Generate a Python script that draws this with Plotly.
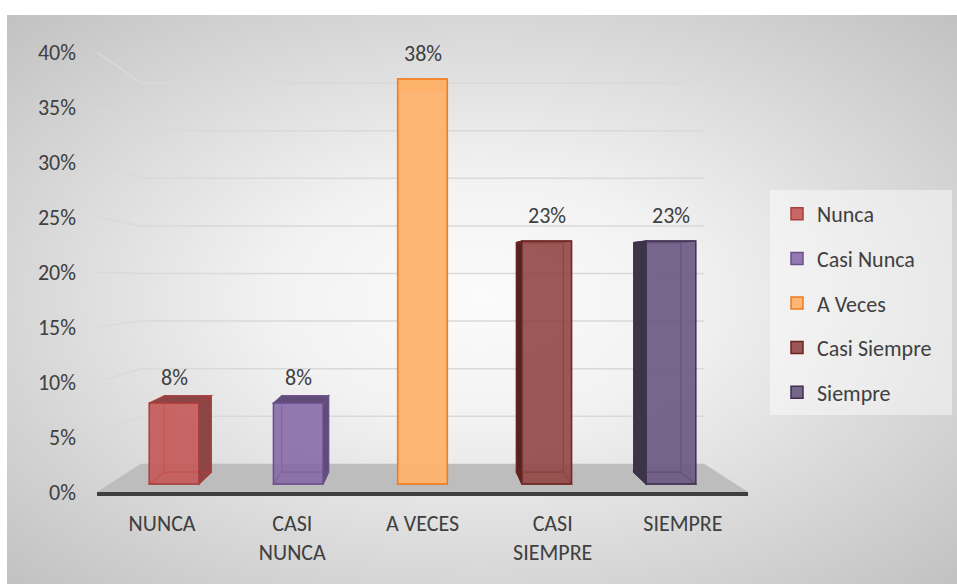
import base64
import plotly.graph_objects as go

# ---- data ----
categories = ["NUNCA", "CASI<br>NUNCA", "A VECES", "CASI<br>SIEMPRE", "SIEMPRE"]
series_names = ["Nunca", "Casi Nunca", "A Veces", "Casi Siempre", "Siempre"]
values = [0.0769, 0.0769, 0.3846, 0.2308, 0.2308]
value_labels = ["8%", "8%", "38%", "23%", "23%"]
y_ticks = [0, 0.05, 0.10, 0.15, 0.20, 0.25, 0.30, 0.35, 0.40]

# (front fill, edge, side face)
COLORS = [
    ("rgba(196,88,86,0.9)", "#a83f3c", "#8a4544"),
    ("rgba(132,104,165,0.88)", "#6b4f8c", "#5f4d78"),
    ("rgba(253,178,108,0.95)", "#f07a1c", "#f9a860"),
    ("rgba(145,70,68,0.9)", "#6e2523", "#4f2423"),
    ("rgba(105,86,128,0.9)", "#3f3050", "#3c3546"),
]
TEXT = "#404040"
FONT = "Calibri, Carlito, Lato, sans-serif"
FS = 22

W, H = 957, 584
L, R, T, B = 97, 748, 52, 492          # plot area, px

X_RANGE = [-0.5, 4.5]
Y_RANGE = [0, 0.40]
# bars stand a bit behind the front plane -> own overlay axes
X2_RANGE = [-0.62, 4.62]
Y2_RANGE = [-0.0076, 0.4103]
VP_X, VP_Y2, BAR_DEPTH = 2.0, 0.203, 0.055
FLOOR_VP_Y, FLOOR_DEPTH = 0.19, 0.135
BAR_W = 0.40


def proj(x, y, cy, k):
    return x + k * (VP_X - x), y + k * (cy - y)


def path(pts, close=True):
    s = "M" + "L".join(f"{x:.4f},{y:.4f}" for x, y in pts)
    return s + ("Z" if close else "")


pw, ph = R - L, B - T
shapes = []

# lighter panel behind the legend
shapes.append(dict(type="rect", xref="paper", yref="paper", layer="below",
                   x0=(770 - L) / pw, x1=(952 - L) / pw, y0=(B - 415) / ph, y1=(B - 190) / ph,
                   fillcolor="rgba(255,255,255,0.45)", line=dict(width=0)))

# floor
fl, fr = X_RANGE
floor = [(fl, 0), (fr, 0), proj(fr, 0, FLOOR_VP_Y, FLOOR_DEPTH), proj(fl, 0, FLOOR_VP_Y, FLOOR_DEPTH)]
shapes.append(dict(type="path", path=path(floor), xref="x", yref="y", layer="below",
                   fillcolor="#bdbdbd", line=dict(width=0)))

# back wall / side wall gridlines
for t in y_ticks[1:]:
    pts = [(fl, t), proj(fl, t, FLOOR_VP_Y, FLOOR_DEPTH), proj(fr, t, FLOOR_VP_Y, FLOOR_DEPTH)]
    shapes.append(dict(type="path", path=path(pts, close=False), xref="x", yref="y",
                       layer="below", line=dict(color="#d9d9d9", width=1.5)))

# 3d box faces behind each bar's front face
for i, v in enumerate(values):
    fill, edge, side = COLORS[i]
    x0, x1 = i - BAR_W / 2, i + BAR_W / 2
    p = lambda x, y: proj(x, y, VP_Y2, BAR_DEPTH)
    faces = []
    if i < VP_X:
        faces.append(([(x1, 0), (x1, v), p(x1, v), p(x1, 0)], side))
    elif i > VP_X:
        faces.append(([(x0, 0), (x0, v), p(x0, v), p(x0, 0)], side))
    faces.append(([(x0, v), (x1, v), p(x1, v), p(x0, v)], side))
    faces.append(([(x0, 0), (x1, 0), p(x1, 0), p(x0, 0)], "rgba(0,0,0,0)"))
    faces.append(([p(x0, 0), p(x1, 0), p(x1, v), p(x0, v)], "rgba(0,0,0,0)"))
    for pts, col in faces:
        shapes.append(dict(type="path", path=path(pts), xref="x2", yref="y2", layer="below",
                           fillcolor=col, line=dict(color=edge, width=1.2)))

fig = go.Figure()
for i, (name, v) in enumerate(zip(series_names, values)):
    fill, edge, side = COLORS[i]
    fig.add_trace(go.Bar(
        x=[i], y=[v], name=name, legendgroup=name, width=BAR_W,
        xaxis="x2", yaxis="y2",
        marker=dict(color=fill, line=dict(color=edge, width=1.5)),
        hoverinfo="skip",
    ))

annotations = [
    dict(x=i, y=v, xref="x2", yref="y2", text=lab, showarrow=False,
         yanchor="bottom", yshift=10, font=dict(size=FS, color=TEXT, family=FONT))
    for i, (v, lab) in enumerate(zip(values, value_labels))
]

# radial gradient background of the chart area
svg = ("<svg xmlns='http://www.w3.org/2000/svg' width='950' height='569' preserveAspectRatio='none'>"
       "<defs><radialGradient id='g' cx='50%' cy='50%' r='72%'>"
       "<stop offset='0' stop-color='#fbfbfb'/><stop offset='0.3' stop-color='#f2f2f2'/>"
       "<stop offset='1' stop-color='#c0c0c0'/></radialGradient></defs>"
       "<rect width='100%' height='100%' fill='url(#g)'/></svg>")
bg_src = "data:image/svg+xml;base64," + base64.b64encode(svg.encode()).decode()
bg = dict(source=bg_src, xref="paper", yref="paper",
          x=(7 - L) / pw, y=(B - 15) / ph, sizex=(W - 7) / pw, sizey=(H - 15) / ph,
          xanchor="left", yanchor="top", sizing="stretch", layer="below")

fig.update_layout(
    width=W, height=H,
    margin=dict(l=L, r=W - R, t=T, b=H - B, pad=0),
    paper_bgcolor="white",
    plot_bgcolor="rgba(0,0,0,0)",
    font=dict(family=FONT, size=FS, color=TEXT),
    barmode="overlay",
    shapes=shapes,
    annotations=annotations,
    images=[bg],
    xaxis=dict(range=X_RANGE, tickvals=list(range(len(categories))), ticktext=categories,
               showline=True, linecolor="#3f3f3f", linewidth=3.5, showgrid=False,
               zeroline=False, ticks="", ticklabelstandoff=9),
    yaxis=dict(range=Y_RANGE, tickvals=y_ticks, tickformat=".0%", showgrid=False,
               zeroline=False, showline=False, ticks="", ticklabelstandoff=20),
    xaxis2=dict(range=X2_RANGE, overlaying="x", visible=False, anchor="y2"),
    yaxis2=dict(range=Y2_RANGE, overlaying="y", visible=False, anchor="x2"),
    legend=dict(x=(777 - L) / pw, y=(B - 193) / ph, xanchor="left", yanchor="top",
                bgcolor="rgba(0,0,0,0)", borderwidth=0, tracegroupgap=13,
                font=dict(size=FS, color=TEXT)),
    showlegend=True,
)

fig.write_html("out.html", config={"displayModeBar": False},
               post_script="document.body.style.margin='0';")
